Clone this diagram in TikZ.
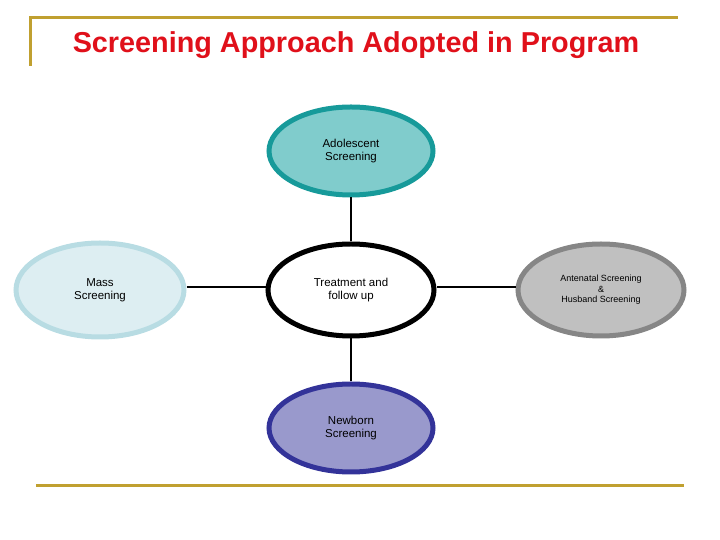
\documentclass[tikz,border=0pt]{standalone}
\usepackage{fontspec}
\setmainfont{Liberation Sans}
\usetikzlibrary{shapes.geometric}
\definecolor{gold}{HTML}{C0A030}
\definecolor{titlered}{HTML}{E0101A}
\definecolor{tealfill}{HTML}{80CCCC}
\definecolor{tealline}{HTML}{179A9A}
\definecolor{bluefill}{HTML}{9999CC}
\definecolor{blueline}{HTML}{333399}
\definecolor{lightfill}{HTML}{DDEEF2}
\definecolor{lightline}{HTML}{B8DCE3}
\definecolor{greyfill}{HTML}{C0C0C0}
\definecolor{greyline}{HTML}{868686}
\tikzset{
  bubble/.style={ellipse, draw, line width=5pt, inner sep=0pt,
    minimum width=164pt, minimum height=88pt, align=center,
    font=\fontsize{11.5}{13}\selectfont},
  link/.style={line width=2.4pt, black},
  rule/.style={line width=3pt, gold}
}
\begin{document}
\begin{tikzpicture}[x=1pt,y=1pt]
\useasboundingbox (0,0) rectangle (720,540);
% frame lines
\coordinate (tl) at (30,522);
\coordinate (tr) at (678,522);
\coordinate (bl) at (30,474);
\coordinate (fl) at (36,54);
\coordinate (fr) at (684,54);
\draw[rule] (bl) -- (tl) -- (tr);
\draw[rule] (fl) -- (fr);
% title
\node[text=titlered, font=\fontsize{28.8}{32}\selectfont\bfseries] (title) at (356,495) {Screening Approach Adopted in Program};
% bubbles
\node[bubble, fill=tealfill, draw=tealline] (adol) at (351,389) {Adolescent\\Screening};
\node[bubble, fill=white, draw=black, minimum height=92pt, minimum width=166pt] (treat) at (351,250) {Treatment and\\follow up};
\node[bubble, fill=bluefill, draw=blueline] (newb) at (351,112) {Newborn\\Screening};
\node[bubble, fill=lightfill, draw=lightline, minimum height=94pt, minimum width=168pt] (mass) at (100,250) {Mass\\Screening};
\node[bubble, fill=greyfill, draw=greyline, minimum height=92pt, minimum width=166pt, font=\fontsize{9}{10.5}\selectfont] (ante) at (601,250) {Antenatal Screening\\\&\\Husband Screening};
% connectors
\draw[link] (adol) -- (treat);
\draw[link] (treat) -- (newb);
\draw[link] ([yshift=3pt]mass.east) -- ([yshift=3pt]treat.west);
\draw[link] ([yshift=3pt]treat.east) -- ([yshift=3pt]ante.west);
\end{tikzpicture}
\end{document}
